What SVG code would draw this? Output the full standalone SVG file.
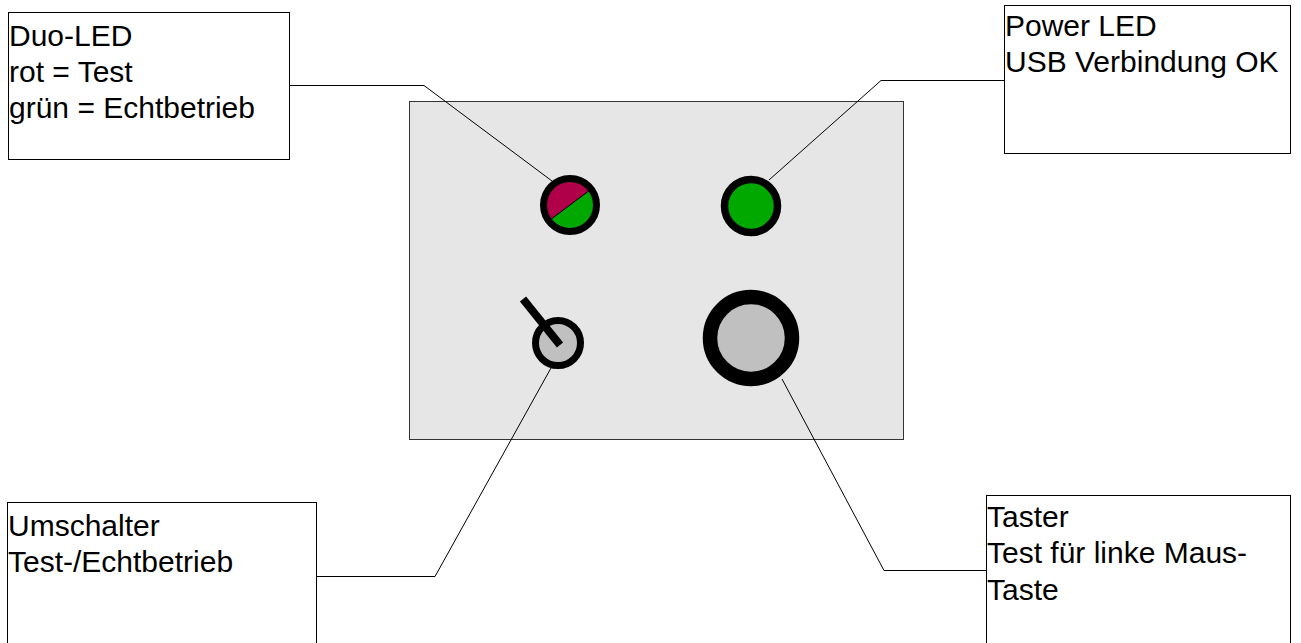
<svg xmlns="http://www.w3.org/2000/svg" width="1301" height="643" viewBox="0 0 1301 643">
<style>
.box{fill:#ffffff;stroke:#000000;stroke-width:1}
.lbl{font-family:"Liberation Sans",Arial,sans-serif;font-size:30px;fill:#000000}
.con{fill:none;stroke:#000000;stroke-width:1}
</style>
<rect width="1301" height="643" fill="#ffffff"/>
<g id="panel">
<rect x="409.5" y="101.5" width="494" height="338" fill="#e6e6e6" stroke="#333333" stroke-width="1"/>
</g>
<g id="connectors">
<polyline class="con" points="290,85.5 424,85.5 552,181"/>
<polyline class="con" points="1005,80.5 881,80.5 769,180"/>
<polyline class="con" points="317,576.5 435,576.5 551,368"/>
<polyline class="con" points="782,379 884,570.5 987,570.5"/>
</g>
<g id="duo-led">
<circle cx="570" cy="205" r="23.5" fill="#00a800"/>
<path d="M551.2,219.1 L588.8,190.9 A23.5,23.5 0 0 0 551.2,219.1 Z" fill="#b0004a"/>
<line x1="551.2" y1="219.1" x2="588.8" y2="190.9" stroke="#000" stroke-width="1"/>
<circle cx="570" cy="205" r="26.5" fill="none" stroke="#000" stroke-width="7"/>
</g>
<g id="power-led">
<circle cx="751" cy="206" r="26.5" fill="#00a800" stroke="#000" stroke-width="7.5"/>
</g>
<g id="switch">
<circle cx="558" cy="343" r="22.5" fill="#c0c0c0" stroke="#000" stroke-width="7"/>
<line x1="523" y1="299" x2="560" y2="345" stroke="#000" stroke-width="8"/>
</g>
<g id="button">
<circle cx="751" cy="338" r="41" fill="#c0c0c0" stroke="#000" stroke-width="14.5"/>
</g>
<g id="box-duo">
<rect class="box" x="8.5" y="12.5" width="281" height="147"/>
<text class="lbl" x="9" y="46">Duo-LED</text>
<text class="lbl" x="9" y="82">rot = Test</text>
<text class="lbl" x="9" y="118">grün = Echtbetrieb</text>
</g>
<g id="box-power">
<rect class="box" x="1004.5" y="5.5" width="286" height="148"/>
<text class="lbl" x="1005" y="36">Power LED</text>
<text class="lbl" x="1005" y="72">USB Verbindung OK</text>
</g>
<g id="box-switch">
<rect class="box" x="7.5" y="502.5" width="309" height="150"/>
<text class="lbl" x="8" y="536">Umschalter</text>
<text class="lbl" x="8" y="572">Test-/Echtbetrieb</text>
</g>
<g id="box-button">
<rect class="box" x="986.5" y="495.5" width="304" height="160"/>
<text class="lbl" x="987" y="527">Taster</text>
<text class="lbl" x="987" y="563">Test für linke Maus-</text>
<text class="lbl" x="987" y="600">Taste</text>
</g>
</svg>
